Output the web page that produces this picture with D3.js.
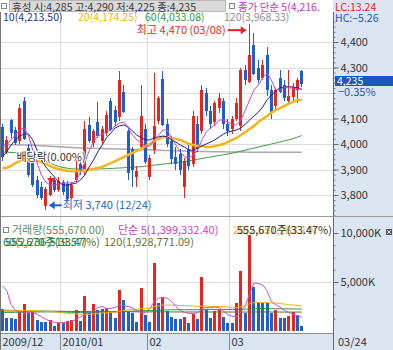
<!DOCTYPE html>
<html>
<head>
<meta charset="utf-8">
<script src="https://cdn.jsdelivr.net/npm/d3@7"></script>
<style>
  body { margin: 0; background: #fff; }
  svg { display: block; font-family: "Noto Sans CJK KR", "Noto Sans", sans-serif; }
</style>
</head>
<body>
<svg id="chart" width="393" height="350"></svg>
<script>
// trading days shown
const dates = [
  "2009/12/10","2009/12/11","2009/12/14","2009/12/15","2009/12/16","2009/12/17","2009/12/18",
  "2009/12/21","2009/12/22","2009/12/23","2009/12/24","2009/12/28","2009/12/29","2009/12/30",
  "2010/01/04","2010/01/05","2010/01/06","2010/01/07","2010/01/08","2010/01/11","2010/01/12",
  "2010/01/13","2010/01/14","2010/01/15","2010/01/18","2010/01/19","2010/01/20","2010/01/21",
  "2010/01/22","2010/01/25","2010/01/26","2010/01/27","2010/01/28","2010/01/29",
  "2010/02/01","2010/02/02","2010/02/03","2010/02/04","2010/02/05","2010/02/08","2010/02/09",
  "2010/02/10","2010/02/11","2010/02/12","2010/02/16","2010/02/17","2010/02/18","2010/02/19",
  "2010/02/22","2010/02/23","2010/02/24","2010/02/25","2010/02/26",
  "2010/03/02","2010/03/03","2010/03/04","2010/03/05","2010/03/08","2010/03/09","2010/03/10",
  "2010/03/11","2010/03/12","2010/03/15","2010/03/16","2010/03/17","2010/03/18","2010/03/19",
  "2010/03/22","2010/03/23","2010/03/24"
];
const open  = [4065,3970,4095,4055,4010,4170,3985,3930,3860,3830, 3755,3800,3860,3820,3850,3845,3790,3860,3920,3900,
               4075,4005,4085,4010,4045,4170,4135,4105,4205,4050, 3980,3870,3990,4060,3870,3975,4090,4255,4080,4010,
               3950,3960,3830,3980,3920,4080,4050,4200,4130,4085, 4140,4170,4080,4060,4100,4070,4290,4245,4390,4300,
               4260,4350,4210,4150,4260,4230,4170,4185,4210,4285];
const high  = [4080,4030,4100,4065,4155,4185,4000,3940,3875,3850, 3830,3875,3865,3870,3860,3855,3850,3940,3935,4090,
               4105,4060,4165,4070,4130,4180,4150,4285,4230,4060, 3990,3915,4230,4080,3955,4280,4190,4285,4100,4030,
               3990,3980,3945,4000,4130,4110,4230,4220,4150,4170, 4200,4180,4100,4110,4180,4300,4310,4470,4435,4330,
               4330,4380,4230,4220,4290,4250,4290,4240,4260,4290];
const low   = [3935,3960,4025,3995,4000,4015,3870,3830,3790,3780, 3740,3795,3810,3810,3800,3775,3785,3850,3880,3880,
               4005,3990,4025,4000,4030,4050,4070,4090,4120,3860, 3830,3830,3980,3920,3860,3960,4080,4070,3990,3920,
               3900,3880,3790,3900,3910,3970,4040,4110,4060,4070, 4120,4060,4030,4040,4090,4050,4230,4240,4270,4240,
               4250,4190,4100,4130,4200,4170,4160,4170,4160,4225];
const close = [3950,4015,4045,4005,4140,4020,3880,3840,3800,3790, 3825,3865,3820,3855,3810,3785,3840,3890,3890,4060,
               4010,4050,4030,4060,4115,4055,4085,4250,4125,3885, 3900,3895,4110,3930,3945,4070,4180,4075,4000,3940,
               3920,3900,3935,3915,4110,3980,4210,4130,4080,4160, 4180,4080,4050,4100,4160,4290,4250,4350,4275,4250,
               4310,4210,4120,4210,4205,4180,4190,4225,4250,4235];

// volume, thousands of shares
const volume = [2210,1360,1290,1190,1970,2760,1870,1970,1120,950, 950,1120,510,780,780,1020,1120,2140,1020,3600,
                1870,2760,2140,2210,2310,1970,1290,4180,3160,1970, 1800,950,4350,1630,950,6970,2820,3500,2040,1460,
                1190,1190,1460,850,1730,1190,5540,2140,1360,2040, 2140,1460,850,850,2820,6120,1800,9800,4520,2990,
                2820,2820,1800,2140,1290,1290,1520,1960,1660,556];
const volUp = [0,0,0,0,1,1,0,1,0,0, 0,1,0,1,0,1,1,1,0,1, 0,1,0,0,1,0,0,1,0,0, 0,0,1,0,0,1,0,1,0,0,
               0,0,1,0,1,0,1,0,0,1, 1,0,0,0,1,1,0,1,0,0, 0,0,0,1,0,0,1,1,0,0];

// price moving averages
const ma5   = [3988,3996,4016,4035,4055,4063,4035,3976,3925,3878, 3851,3839,3839,3843,3847,3847,3847,3855,3890,3929,
               3973,4008,4031,4039,4047,4055,4071,4082,4086,4063, 4035,4016,4004,3992,3992,4016,4035,4055,4055,4024,
               3996,3969,3949,3945,3957,3976,4016,4047,4063,4075, 4094,4094,4086,4075,4075,4094,4133,4173,4212,4231,
               4259,4278,4251,4212,4212,4224,4220,4220,4216,4216];
const ma10  = [3949,3969,3996,4016,4031,4039,4039,4016,3976,3937, 3910,3890,3871,3851,3839,3839,3843,3847,3859,3878,
               3910,3937,3969,3996,4024,4043,4063,4071,4075,4067, 4051,4035,4024,4016,4016,4024,4028,4031,4028,4016,
               4008,3996,3988,3976,3976,3984,3992,4000,4008,4016, 4028,4039,4047,4051,4055,4063,4078,4094,4110,4125,
               4145,4173,4192,4208,4220,4224,4224,4224,4220,4214];
const ma20  = [3906,3906,3914,3925,3933,3937,3937,3937,3933,3929, 3922,3914,3906,3902,3898,3894,3894,3894,3894,3898,
               3898,3902,3906,3910,3918,3925,3933,3941,3949,3957, 3965,3973,3980,3992,4000,4012,4020,4027,4027,4024,
               4020,4016,4008,4000,3996,3992,3992,3988,3988,3992, 3996,4000,4008,4016,4024,4035,4047,4059,4071,4086,
               4098,4110,4122,4133,4141,4149,4157,4165,4173,4174];
const ma60  = [3968,3968,3967,3966,3964,3962,3958,3953,3947,3940, 3932,3925,3918,3912,3908,3905,3903,3902,3901,3901,
               3901,3902,3902,3903,3903,3904,3905,3906,3907,3908, 3909,3910,3911,3913,3915,3917,3919,3921,3923,3925,
               3927,3929,3931,3934,3937,3940,3943,3946,3949,3952, 3955,3958,3961,3964,3968,3972,3976,3980,3984,3988,
               3992,3996,4000,4004,4008,4012,4016,4021,4027,4033];
const ma120 = [3998,3998,3997,3997,3996,3996,3995,3995,3994,3993, 3992,3991,3990,3989,3988,3987,3986,3985,3984,3984,
               3983,3983,3982,3982,3981,3981,3980,3980,3980,3979, 3979,3978,3978,3977,3977,3976,3976,3975,3975,3974,
               3974,3973,3973,3972,3972,3971,3971,3971,3970,3970, 3970,3970,3969,3969,3969,3969,3969,3968,3968,3968,
               3968,3968,3968,3968,3968,3968,3968,3968,3968,3968];

// volume moving averages (thousands)
const vma5   = [4600,4150,2700,2100,1950,1900,1900,1950,1700,1450, 1200,1000,900,850,850,900,950,1200,1400,1700,
                1900,2000,2400,2500,2300,2300,2400,2650,2600,2500, 2350,2100,1900,1850,2300,3000,3370,3400,3350,3000,
                2500,2100,1900,1800,1800,1850,2300,2400,2400,2450, 2400,2000,1650,1500,1450,1950,2600,3800,4900,4850,
                4690,4100,3000,2700,2450,2100,1900,1700,1550,1399];
const vma20  = [2150,2150,2100,2100,2100,2100,2100,2100,2050,2050, 2000,2000,1950,1900,1850,1800,1750,1750,1700,1700,
                1700,1750,1800,1850,1850,1900,1900,2000,2100,2150, 2200,2200,2300,2300,2350,2500,2550,2650,2650,2650,
                2650,2600,2600,2550,2550,2500,2550,2550,2500,2500, 2500,2500,2450,2400,2400,2500,2550,2800,2900,2900,
                2900,2900,2850,2850,2800,2750,2700,2650,2600,2550];
const vma60  = [1900,1900,1910,1910,1920,1920,1930,1930,1940,1940, 1950,1950,1950,1940,1930,1920,1910,1900,1900,1900,
                1900,1910,1920,1930,1940,1950,1960,1980,2000,2020, 2030,2040,2060,2080,2090,2100,2120,2140,2150,2160,
                2170,2170,2170,2170,2170,2170,2180,2190,2200,2200, 2200,2200,2200,2200,2200,2210,2220,2250,2270,2280,
                2290,2290,2280,2270,2270,2260,2250,2250,2240,2240];
const vma120 = [2050,2050,2050,2045,2045,2040,2040,2035,2035,2030, 2030,2025,2020,2015,2010,2005,2000,1995,1990,1985,
                1980,1980,1975,1975,1970,1970,1965,1965,1960,1960, 1955,1955,1950,1950,1950,1950,1950,1950,1950,1945,
                1945,1945,1940,1940,1940,1940,1940,1940,1940,1940, 1935,1935,1935,1935,1935,1935,1935,1940,1940,1940,
                1940,1940,1935,1935,1935,1930,1930,1930,1930,1929];

const priceGrid = [3800, 3900, 4000, 4100, 4200, 4300, 4400];
const priceLabels = [3800, 3900, 4000, 4100, 4300, 4400];
const volLabels = [5000, 10000];
const monthStarts = [
  { date: "2009/12/10", label: "2009/12" },
  { date: "2010/01/04", label: "2010/01" },
  { date: "2010/02/01", label: "02" },
  { date: "2010/03/02", label: "03" }
];
const lastDateLabel = "03/24";

const RED = "#e4261f", BLUE = "#1f5fcc";
const svg = d3.select("#chart");
const plotR = 333;

const x = d3.scaleBand().domain(dates).range([0.84, 0.84 + 4.32 * dates.length]).paddingInner(0.3);
const cx = (d) => x(d) + x.bandwidth() / 2;
const y = d3.scaleLinear().domain([3700, 4500]).range([220.5, 16.5]);
const yv = d3.scaleLinear().domain([0, 10000]).range([331, 233]);

const candles = dates.map((d, i) => ({
  d, i, o: open[i], h: high[i], l: low[i], c: close[i], v: volume[i], vu: volUp[i]
}));

// grid
const grid = svg.append("g").attr("stroke", "#dcdcdc").attr("shape-rendering", "crispEdges");
grid.selectAll("line.h").data(priceGrid).join("line")
  .attr("x1", 1).attr("x2", plotR)
  .attr("y1", (d) => Math.round(y(d)) + 0.5).attr("y2", (d) => Math.round(y(d)) + 0.5);
grid.append("line").attr("x1", 1).attr("x2", plotR)
  .attr("y1", Math.round(yv(5000)) + 0.5).attr("y2", Math.round(yv(5000)) + 0.5);
grid.selectAll("line.v").data(monthStarts.slice(1)).join("line")
  .attr("x1", (d) => Math.round(x(d.date) - 1.5) + 0.5).attr("x2", (d) => Math.round(x(d.date) - 1.5) + 0.5)
  .attr("y1", 12).attr("y2", 333);

// long MAs under candles
const line = (arr, sc) => d3.line().x((d, i) => cx(dates[i])).y((d) => sc(d))(arr);
svg.append("path").attr("d", line(ma120, y)).attr("fill", "none").attr("stroke", "#a9a9a9").attr("stroke-width", 1.5);
svg.append("path").attr("d", line(ma60, y)).attr("fill", "none").attr("stroke", "#3c9c46").attr("stroke-width", 1);

// candles
const cg = svg.append("g").attr("shape-rendering", "crispEdges");
cg.selectAll("line").data(candles).join("line")
  .attr("x1", (d) => Math.floor(cx(d.d)) + 0.5).attr("x2", (d) => Math.floor(cx(d.d)) + 0.5)
  .attr("y1", (d) => y(d.h)).attr("y2", (d) => y(d.l))
  .attr("stroke", (d) => (d.c >= d.o ? RED : BLUE));
cg.selectAll("rect").data(candles).join("rect")
  .attr("x", (d) => Math.floor(cx(d.d)) - 1).attr("width", 3)
  .attr("y", (d) => y(Math.max(d.o, d.c)))
  .attr("height", (d) => Math.max(1, Math.abs(y(d.o) - y(d.c))))
  .attr("fill", (d) => (d.c >= d.o ? RED : BLUE));

svg.append("path").attr("d", line(ma20, y)).attr("fill", "none").attr("stroke", "#f2b51c").attr("stroke-width", 2.5);
svg.append("path").attr("d", line(ma10, y)).attr("fill", "none").attr("stroke", "#1d2680").attr("stroke-width", 1);
svg.append("path").attr("d", line(ma5, y)).attr("fill", "none").attr("stroke", "#cf42cf").attr("stroke-width", 1);

// volume bars
svg.append("g").attr("shape-rendering", "crispEdges")
  .selectAll("rect").data(candles).join("rect")
  .attr("x", (d) => Math.floor(cx(d.d)) - 1).attr("width", 3)
  .attr("y", (d) => yv(d.v)).attr("height", (d) => yv(0) - yv(d.v))
  .attr("fill", (d) => (d.vu ? RED : BLUE));
[[vma120, "#5f6b2e"], [vma60, "#2f8f3a"], [vma20, "#ecb21e"], [vma5, "#d04cd0"]].forEach(([arr, col]) => {
  svg.append("path").attr("d", line(arr, yv)).attr("fill", "none").attr("stroke", col).attr("stroke-width", 1);
});

// high / low / ex-dividend markers
const hi = d3.maxIndex(high), lo = d3.minIndex(low);
const hx = cx(dates[hi]), hy = y(high[hi]) + 6;
svg.append("line").attr("x1", hx - 22).attr("x2", hx - 8).attr("y1", hy).attr("y2", hy).attr("stroke", RED).attr("stroke-width", 2);
svg.append("path").attr("d", `M${hx - 3},${hy} L${hx - 9},${hy - 4} L${hx - 9},${hy + 4} Z`).attr("fill", RED);
svg.append("text").attr("x", hx - 24).attr("y", hy + 4).attr("text-anchor", "end")
  .attr("font-size", 11).attr("fill", RED)
  .text(`최고 ${d3.format(",")(high[hi])} (${dates[hi].slice(5)})`);

const lx = cx(dates[lo]), ly = y(low[lo]) - 5;
svg.append("line").attr("x1", lx + 8).attr("x2", lx + 16).attr("y1", ly).attr("y2", ly).attr("stroke", BLUE).attr("stroke-width", 2);
svg.append("path").attr("d", `M${lx + 3},${ly} L${lx + 9},${ly - 4} L${lx + 9},${ly + 4} Z`).attr("fill", BLUE);
svg.append("text").attr("x", lx + 17).attr("y", ly + 4)
  .attr("font-size", 11).attr("fill", BLUE)
  .text(`최저 ${d3.format(",")(low[lo])} (${dates[lo].slice(5)})`);

const exDiv = dates.indexOf("2009/12/28");
const ex = cx(dates[exDiv]) + 1, ey = y(high[exDiv]) + 2;
svg.append("path").attr("d", `M${ex - 4},${ey} L${ex + 4},${ey} L${ex},${ey + 6} Z`).attr("fill", RED);
svg.append("text").attr("x", ex).attr("y", 161).attr("text-anchor", "middle")
  .attr("font-size", 11).attr("fill", "#333")
  .attr("stroke", "#fff").attr("stroke-width", 2).attr("paint-order", "stroke")
  .text("배당락(0.00%)");

// header rows
const hdr = svg.append("g").attr("font-size", 10.5);
hdr.append("rect").attr("x", 1.5).attr("y", 3.5).attr("width", 5).attr("height", 5).attr("fill", "#fff").attr("stroke", "#888");
hdr.append("rect").attr("x", 9.5).attr("y", 0.5).attr("width", 216).attr("height", 11).attr("fill", "#d9d9d9").attr("stroke", "#b8b8b8");
hdr.append("text").attr("x", 12).attr("y", 10.5).attr("fill", "#3a3a3a")
  .text(`휴성 시:${d3.format(",")(open[69])} 고:${d3.format(",")(high[69])} 저:${d3.format(",")(low[69])} 종:${d3.format(",")(close[69])}`);
hdr.append("rect").attr("x", 229.5).attr("y", 3.5).attr("width", 5).attr("height", 5).attr("fill", "#fff").attr("stroke", "#888");
hdr.append("text").attr("x", 238).attr("y", 10.5).attr("fill", "#c535c5").text("종가 단순 5(4,216.");
hdr.append("text").attr("x", 3).attr("y", 21).attr("fill", "#27338f").text("10(4,213.50)");
hdr.append("text").attr("x", 78).attr("y", 21).attr("fill", "#eab624").text("20(4,174.25)");
hdr.append("text").attr("x", 145).attr("y", 21).attr("fill", "#2f9a3a").text("60(4,033.08)");
hdr.append("text").attr("x", 224).attr("y", 21).attr("fill", "#8c8c8c").text("120(3,968.33)");

// volume header
svg.append("line").attr("x1", 0).attr("x2", plotR).attr("y1", 216.5).attr("y2", 216.5).attr("stroke", "#9a9a9a");
const vh = svg.append("g").attr("font-size", 11);
vh.append("rect").attr("x", 3.5).attr("y", 227.5).attr("width", 5).attr("height", 5).attr("fill", "#fff").attr("stroke", "#888");
vh.append("text").attr("x", 12).attr("y", 234).attr("fill", "#5b8f5b").text("거래량(555,670.00)");
vh.append("text").attr("x", 118).attr("y", 234).attr("fill", "#c93ec9").text("단순 5(1,399,332.40)");
vh.append("text").attr("x", 233).attr("y", 234).attr("fill", "#e6b52a").text("20(2,551,283.10)");
vh.append("text").attr("x", 237).attr("y", 234).attr("fill", "#333").text("555,670주(33.47%)");
vh.append("text").attr("x", 3).attr("y", 246).attr("fill", "#2f8f3a").text("60(2,236,519.57)");
vh.append("text").attr("x", 5).attr("y", 246).attr("fill", "#3d6b3d").text("555,670주(33.47%)");
vh.append("text").attr("x", 104).attr("y", 246).attr("fill", "#6e6e3c").text("120(1,928,771.09)");

// bottom date strip
svg.append("rect").attr("x", 0).attr("y", 333).attr("width", plotR).attr("height", 17).attr("fill", "#dbe5f1");
svg.append("line").attr("x1", 0).attr("x2", 393).attr("y1", 333.5).attr("y2", 333.5).attr("stroke", "#8a8a8a");
const ds = svg.append("g").attr("font-size", 11).attr("fill", "#333");
monthStarts.forEach((m, k) => {
  const sx = k === 0 ? 0.5 : Math.round(x(m.date) - 1.5) + 0.5;
  ds.append("line").attr("x1", sx).attr("x2", sx).attr("y1", 333).attr("y2", 350).attr("stroke", "#8a8a8a");
  ds.append("text").attr("x", sx + 2).attr("y", 346).text(m.label);
});

// left border
svg.append("line").attr("x1", 0.5).attr("x2", 0.5).attr("y1", 12).attr("y2", 350).attr("stroke", "#777");

// right axis panel
svg.append("rect").attr("x", plotR).attr("y", 0).attr("width", 393 - plotR).attr("height", 350).attr("fill", "#dce6f2");
const ax = svg.append("g").attr("transform", `translate(${plotR + 0.5},0)`);
ax.append("line").attr("y1", 12).attr("y2", 350).attr("stroke", "#666");
ax.append("g").call(d3.axisRight(y).tickValues(d3.range(3720, 4500, 20)).tickSize(2).tickFormat(""))
  .call((g) => g.select(".domain").remove()).selectAll("line").attr("stroke", "#777");
ax.append("g").call(d3.axisRight(y).tickValues(priceLabels).tickSize(5).tickPadding(2).tickFormat(d3.format(",")))
  .call((g) => g.select(".domain").remove())
  .call((g) => g.selectAll("text").attr("font-size", 11).attr("fill", "#333").attr("font-family", "Noto Sans CJK KR, Noto Sans, sans-serif"))
  .selectAll("line").attr("stroke", "#666");
ax.append("g").call(d3.axisRight(yv).tickValues(d3.range(1250, 10000, 1250)).tickSize(2).tickFormat(""))
  .call((g) => g.select(".domain").remove()).selectAll("line").attr("stroke", "#777");
ax.append("g").call(d3.axisRight(yv).tickValues(volLabels).tickSize(5).tickPadding(2).tickFormat((d) => d3.format(",")(d) + "K"))
  .call((g) => g.select(".domain").remove())
  .call((g) => g.selectAll("text").attr("font-size", 11).attr("fill", "#333").attr("font-family", "Noto Sans CJK KR, Noto Sans, sans-serif"))
  .selectAll("line").attr("stroke", "#666");
svg.append("line").attr("x1", plotR).attr("x2", 393).attr("y1", 216.5).attr("y2", 216.5).attr("stroke", "#9a9a9a");

// last price tag
const last = close[close.length - 1], prev = close[close.length - 2];
svg.append("rect").attr("x", plotR + 2).attr("y", 76).attr("width", 393 - plotR - 2).attr("height", 10).attr("fill", "#1d55c4");
svg.append("text").attr("x", plotR + 4).attr("y", 85).attr("font-size", 10.5).attr("fill", "#fff").text(d3.format(",")(last));
svg.append("text").attr("x", plotR + 5).attr("y", 96).attr("font-size", 11).attr("fill", "#2153c4")
  .text(d3.format(".2f")((last - prev) / prev * 100) + "%");

// LC / HC
svg.append("text").attr("x", plotR + 2).attr("y", 10.5).attr("font-size", 10.5).attr("fill", "#d42a2a")
  .text("LC:" + d3.format(".2f")((last / low[lo] - 1) * 100));
svg.append("text").attr("x", plotR + 2).attr("y", 21.5).attr("font-size", 10.5).attr("fill", "#2153c4")
  .text("HC:" + d3.format(".2f")((last / high[hi] - 1) * 100));

// small icon by volume axis
svg.append("rect").attr("x", 386).attr("y", 229).attr("width", 6).attr("height", 6).attr("fill", "#555");
svg.append("path").attr("d", "M387,230 L391,234 M391,230 L387,234").attr("stroke", "#fff").attr("stroke-width", 1);

// last date
svg.append("text").attr("x", plotR + 5).attr("y", 346).attr("font-size", 11).attr("fill", "#333").text(lastDateLabel);
</script>
</body>
</html>
